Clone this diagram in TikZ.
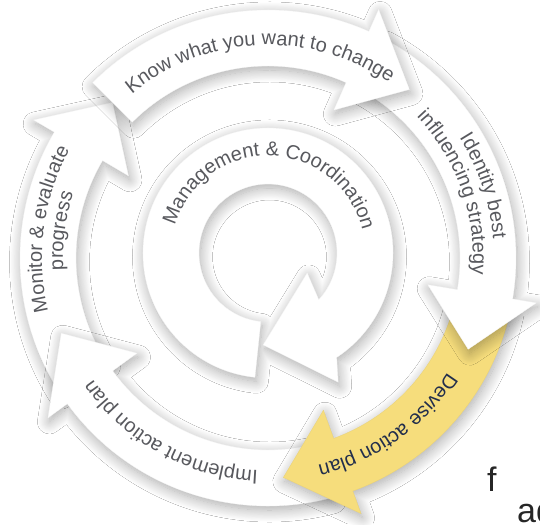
\documentclass[tikz,border=0pt]{standalone}
\usepackage{fontspec}
\setmainfont{Liberation Sans}
\usetikzlibrary{decorations.text,shadows.blur}
\definecolor{txtgray}{RGB}{88,89,94}
\definecolor{navytxt}{RGB}{34,46,76}
\definecolor{ylw}{RGB}{246,221,124}
\newcommand\lblfont{\fontsize{20}{24}\selectfont}
\begin{document}
\begin{tikzpicture}[x=1pt,y=1pt,
  shadowed/.style={blur shadow={shadow xshift=1.5pt, shadow yshift=-4pt, shadow blur radius=12pt, shadow blur steps=16, shadow opacity=34}},
  whitearrow/.style={shadowed, fill=white, draw=black!4, line width=0.3pt},
  yellowarrow/.style={shadowed, fill=ylw, draw=ylw!95!black, line width=0.3pt},
  arclabel/.style={decorate, decoration={text along path, text align=center, text color=txtgray, text={#1}}},
  arclabelnavy/.style={decorate, decoration={text along path, text align=center, text color=navytxt, text={#1}}},
  doctext/.style={anchor=base west, inner sep=0pt, text=black!85, font=\fontsize{34}{40}\selectfont}]
\useasboundingbox[fill=white] (-268,-266) rectangle (272,258);

% inner circular arrow: Management & Coordination
\begin{scope}[shift={(0,5)}]
\path[whitearrow] (264:125pt) arc[start angle=264, end angle=-56.7, radius=125pt]
  -- (-61.5:147pt) -- (-93:92pt) -- (-27:44pt) -- (-42.6:69pt)
  arc[start angle=-42.6, end angle=264, radius=69pt] -- cycle;
\path[arclabel={|\lblfont|Management {\&} Coordination}]
  (178.5:97pt) arc[start angle=178.5, end angle=-1.5, radius=97pt];
\end{scope}

% Monitor & evaluate progress
\path[whitearrow] (213:248pt) arc[start angle=213, end angle=149.5, radius=248pt]
  -- (149.5:272pt) -- (135:220pt) -- (149.5:162pt) -- (149.5:192pt)
  arc[start angle=149.5, end angle=213, radius=192pt] -- cycle;
% Implement action plan
\path[whitearrow] (285:248pt) arc[start angle=285, end angle=216, radius=248pt]
  -- (216:272pt) -- (200:220pt) -- (216:162pt) -- (216:192pt)
  arc[start angle=216, end angle=285, radius=192pt] -- cycle;
% Devise action plan
\path[yellowarrow] (-12:248pt) arc[start angle=-12, end angle=-70, radius=248pt]
  -- (-70:272pt) -- (-86:220pt) -- (-70:162pt) -- (-70:192pt)
  arc[start angle=-70, end angle=-12, radius=192pt] -- cycle;
% Identity best influencing strategy
\path[whitearrow] (62:248pt) arc[start angle=62, end angle=-9.5, radius=248pt]
  -- (-9.5:272pt) -- (-24.5:220pt) -- (-9.5:162pt) -- (-9.5:192pt)
  arc[start angle=-9.5, end angle=62, radius=192pt] -- cycle;
% Know what you want to change
\path[whitearrow] (135:248pt) arc[start angle=135, end angle=66, radius=248pt]
  -- (66:272pt) -- (50:220pt) -- (66:162pt) -- (66:192pt)
  arc[start angle=66, end angle=135, radius=192pt] -- cycle;

% labels on the outer ring
\path[arclabel={|\lblfont|Know what you want to change}]
  (152.5:213pt) arc[start angle=152.5, end angle=32.5, radius=213pt];
\path[arclabel={|\lblfont|Identity best}]
  (48.5:226pt) arc[start angle=48.5, end angle=-11.5, radius=226pt];
\path[arclabel={|\lblfont|influencing strategy}]
  (59.5:205pt) arc[start angle=59.5, end angle=-20.5, radius=205pt];
\path[arclabelnavy={|\lblfont|Devise action plan}]
  (-14.5:213pt) arc[start angle=-14.5, end angle=-94.5, radius=213pt];
\path[arclabel={|\lblfont|Implement action plan}]
  (-79:213pt) arc[start angle=-79, end angle=-159, radius=213pt];
\path[arclabel={|\lblfont|Monitor {\&} evaluate}]
  (212.5:226pt) arc[start angle=212.5, end angle=132.5, radius=226pt];
\path[arclabel={|\lblfont|progress}]
  (202.5:205pt) arc[start angle=202.5, end angle=142.5, radius=205pt];

% cut-off text of the surrounding document
\node[doctext] (f) at (219,-233) {f};
\node[doctext] (ad) at (249,-264) {ad};
\end{tikzpicture}
\end{document}
